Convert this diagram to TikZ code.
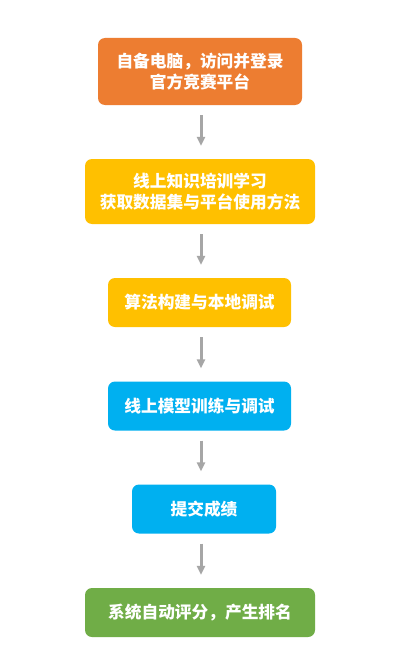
\documentclass[tikz,border=0pt]{standalone}
\usepackage{fontspec}
\setmainfont{Noto Sans CJK SC}
\usepackage{xcolor}
\definecolor{steporange}{HTML}{ED7D31}
\definecolor{stepyellow}{HTML}{FFC000}
\definecolor{stepblue}{HTML}{00B0F0}
\definecolor{stepgreen}{HTML}{70AD47}
\definecolor{arrowgray}{HTML}{A6A6A6}
\usetikzlibrary{arrows.meta}
\tikzset{
  every node/.style={font=\fontsize{16.7bp}{20.5bp}\selectfont\bfseries},
  stepbox/.style={
    rectangle, rounded corners=7bp, draw=none, text=white,
    minimum height=49bp, align=center, inner sep=0pt
  },
  flowarrow/.style={
    -{Triangle[length=9bp, width=8bp]}, arrowgray, line width=3bp,
    shorten <=10bp, shorten >=13bp
  }
}

\begin{document}
\begin{tikzpicture}[x=1bp, y=-1bp]

% ── page frame ──────────────────────────────────────────────────────────────
\useasboundingbox[fill=white] (0,0) rectangle (412,668);

% ── steps, top to bottom ────────────────────────────────────────────────────
\node[stepbox, fill=steporange, minimum width=204bp, minimum height=67bp]
  (login) at (200, 71.5) {自备电脑，访问并登录\\官方竞赛平台};
\node[stepbox, fill=stepyellow, minimum width=230bp, minimum height=65bp]
  (train) at (200, 191.5) {线上知识培训学习\\获取数据集与平台使用方法};
\node[stepbox, fill=stepyellow, minimum width=183bp]
  (build) at (199.5, 302.5) {算法构建与本地调试};
\node[stepbox, fill=stepblue, minimum width=183bp]
  (tune) at (199.5, 406) {线上模型训练与调试};
\node[stepbox, fill=stepblue, minimum width=144bp]
  (submit) at (204, 509) {提交成绩};
\node[stepbox, fill=stepgreen, minimum width=230bp]
  (rank) at (200, 612.5) {系统自动评分，产生排名};

% ── connectors ──────────────────────────────────────────────────────────────
\draw[flowarrow] (login.south -| 201,0) -- (train.north -| 201,0);
\draw[flowarrow] (train.south -| 201,0) -- (build.north -| 201,0);
\draw[flowarrow] (build.south -| 201,0) -- (tune.north -| 201,0);
\draw[flowarrow] (tune.south -| 201,0) -- (submit.north -| 201,0);
\draw[flowarrow] (submit.south -| 201,0) -- (rank.north -| 201,0);

\end{tikzpicture}
\end{document}
